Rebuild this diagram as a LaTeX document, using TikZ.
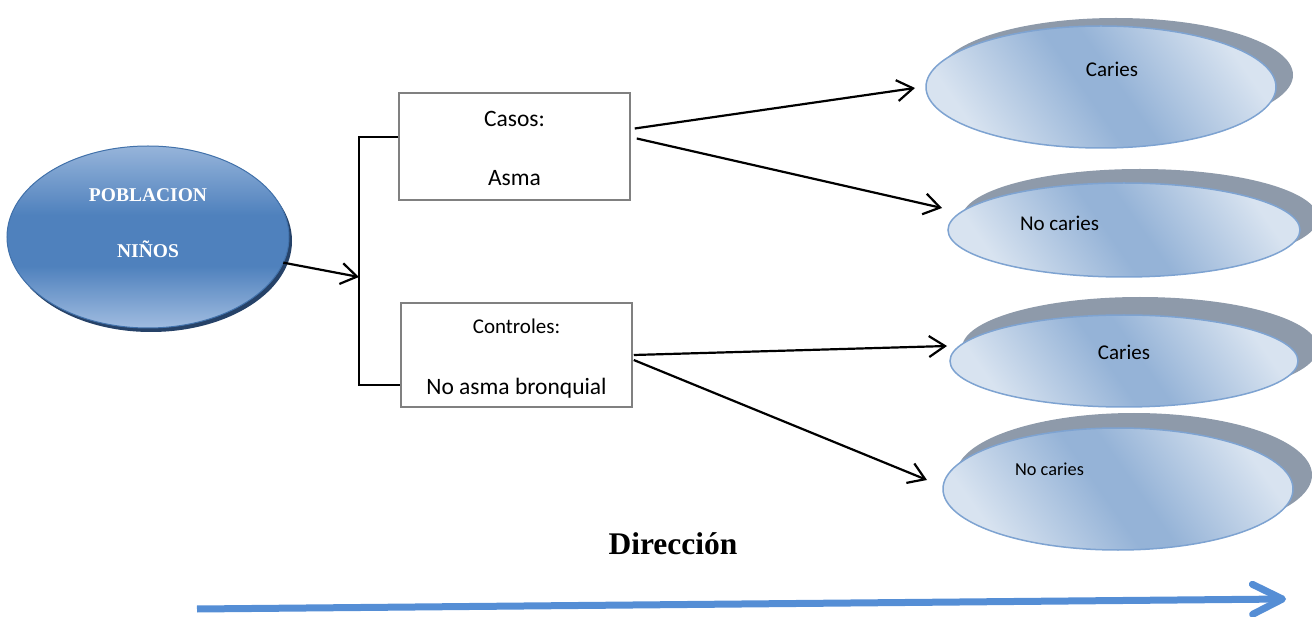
\documentclass[tikz,border=0pt]{standalone}
\usepackage{fontspec}
\setmainfont{Carlito}
\newfontfamily\serifb{Liberation Serif}[BoldFont={Liberation Serif Bold}]
\usetikzlibrary{arrows.meta,shapes.geometric,calc}
\definecolor{mainmid}{RGB}{79,129,189}
\definecolor{maintop}{RGB}{150,180,218}
\definecolor{mainbot}{RGB}{160,188,224}
\definecolor{mainborder}{RGB}{65,113,170}
\definecolor{mainshadow}{RGB}{38,66,104}
\definecolor{ellight}{RGB}{216,227,240}
\definecolor{elmid}{RGB}{149,179,215}
\definecolor{elborder}{RGB}{126,163,209}
\definecolor{shadowgray}{RGB}{142,154,170}
\definecolor{boxborder}{RGB}{128,128,128}
\definecolor{dirblue}{RGB}{85,142,213}
\pgfdeclareverticalshading{mainshading}{100bp}{color(0bp)=(mainbot); color(25bp)=(mainbot); color(42bp)=(mainmid); color(56bp)=(mainmid); color(75bp)=(maintop); color(100bp)=(maintop)}
\pgfdeclarehorizontalshading{outshading}{100bp}{color(0bp)=(ellight); color(25bp)=(ellight); color(47bp)=(elmid); color(53bp)=(elmid); color(75bp)=(ellight); color(100bp)=(ellight)}
\begin{document}
\begin{tikzpicture}[x=1pt,y=-1pt,
  ell/.style={ellipse, inner sep=0pt, outer sep=0pt},
  outcome/.style={ell, draw=elborder, line width=1.5pt, shading=outshading, shading angle=35},
  oshadow/.style={ell, fill=shadowgray},
  mainell/.style={ell, draw=mainborder, line width=1pt, shading=mainshading},
  mainshd/.style={ell, fill=mainshadow},
  groupbox/.style={rectangle, draw=boxborder, line width=1.5pt, inner sep=0pt},
  lbl/.style={anchor=base, inner sep=0pt, font=\fontsize{21}{25}\selectfont},
  boxlbl/.style={anchor=base, inner sep=0pt, font=\fontsize{23.5}{28}\selectfont},
  mainlbl/.style={anchor=base, inner sep=0pt, text=white, font=\serifb\bfseries\fontsize{19.5}{23}\selectfont},
  conn/.style={draw=black, line width=2.2pt, -{Straight Barb[length=16pt,width=21pt]}},
  bracketline/.style={draw=black, line width=2pt},
  dirarrow/.style={draw=dirblue, line width=7pt, -{Straight Barb[length=30pt,width=30pt,round]}}
]
\useasboundingbox (0,0) rectangle (1312,617);

% main population ellipse
\node[mainshd, minimum width=282, minimum height=182] (mains) at (151,241) {};
\node[mainell, minimum width=282, minimum height=182] (main) at (148,237) {};
\node[mainlbl] (mt1) at (148,202) {POBLACION};
\node[mainlbl] (mt2) at (148,258) {NIÑOS};

% group boxes
\node[groupbox, minimum width=231, minimum height=107] (box1) at (514.5,146.5) {};
\node[boxlbl] (b1a) at (box1.center |- 0,127) {Casos:};
\node[boxlbl] (b1b) at (box1.center |- 0,186) {Asma};
\node[groupbox, minimum width=231, minimum height=104] (box2) at (516.5,355) {};
\node[lbl] (b2a) at (box2.center |- 0,334) {Controles:};
\node[boxlbl] (b2b) at (box2.center |- 0,395) {No asma bronquial};

% bracket
\coordinate (br1) at (359,137);
\coordinate (br2) at (359,385);
\coordinate (jn) at (359,277);
\draw[bracketline] (box1.west |- br1) -- (br1) -- (br2) -- (box2.west |- br2);
\draw[conn] (main) -- (jn);

% outcome ellipses (shadows first)
\node[oshadow, minimum width=354, minimum height=114] (e1s) at (1116,75) {};
\node[outcome, minimum width=350, minimum height=122] (e1) at (1101,87) {};
\node[lbl] (t1) at (1112,77) {Caries};

\node[oshadow, minimum width=356, minimum height=98] (e2s) at (1140,218) {};
\node[outcome, minimum width=352, minimum height=94] (e2) at (1124,230) {};
\node[lbl] (t2) at (1059.5,231) {No caries};

\node[oshadow, minimum width=356, minimum height=102] (e3s) at (1140,348) {};
\node[outcome, minimum width=348, minimum height=92] (e3) at (1124,361) {};
\node[lbl] (t3) at (1124,360) {Caries};

\node[oshadow, minimum width=356, minimum height=124] (e4s) at (1134,475) {};
\node[outcome, minimum width=350, minimum height=122] (e4) at (1118,489) {};
\node[lbl, font=\fontsize{18.3}{22}\selectfont] (t4) at (1049.5,475) {No caries};

% connectors
\draw[conn] ($(box1.east)+(4,-18)$) -- ($(e1.west)+(-11,1)$);
\draw[conn] ($(box1.east)+(6,-8)$) -- ($(e2.west)+(-6,-22)$);
\draw[conn] ($(box2.east)+(1,0)$) -- ($(e3.west)+(-3,-15)$);
\draw[conn] ($(box2.east)+(1,5)$) -- ($(e4.west)+(-16,-9)$);

% direction
\node[anchor=base, inner sep=0pt, font=\serifb\bfseries\fontsize{31.5}{36}\selectfont] (dir) at (673,554) {Dirección};
\coordinate (dl) at (197,609);
\coordinate (dr) at (1286,599);
\draw[dirarrow] (dl) -- (dr);
\end{tikzpicture}
\end{document}
